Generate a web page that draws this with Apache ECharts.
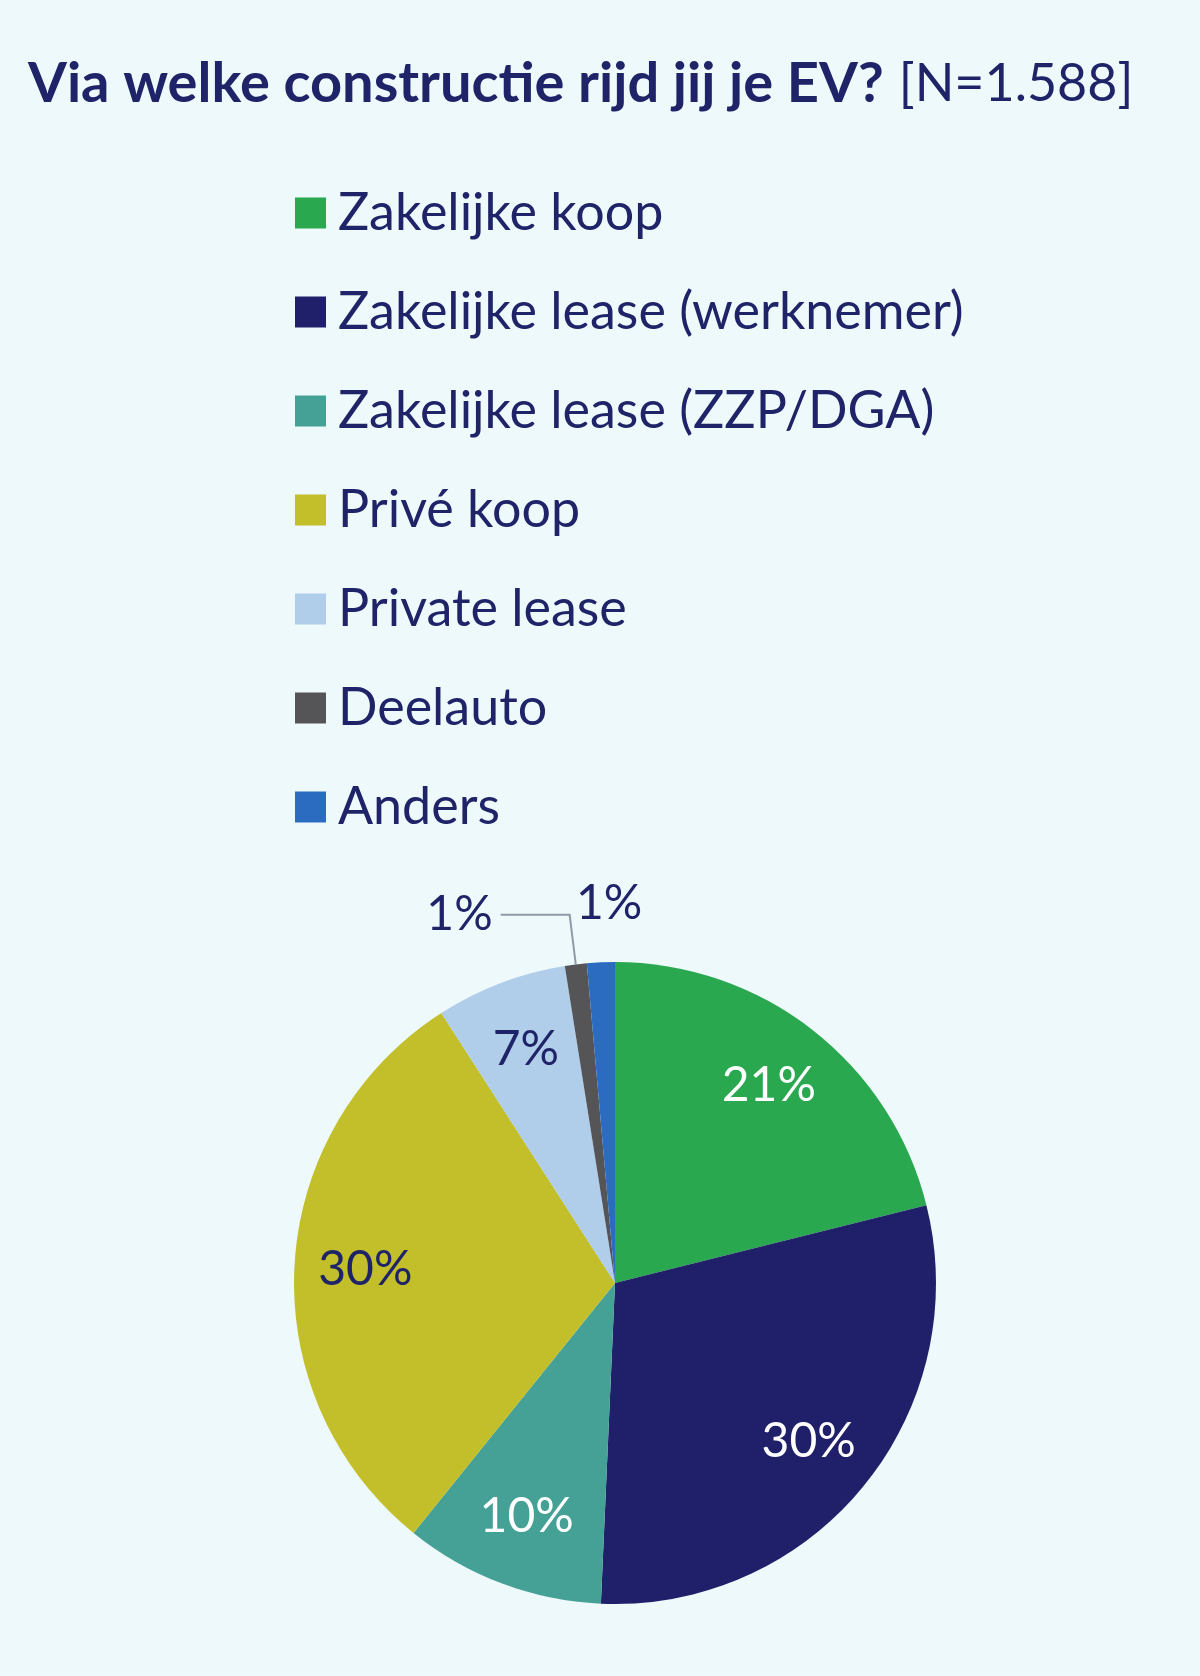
<!DOCTYPE html>
<html>
<head>
<meta charset="utf-8">
<script src="https://cdn.jsdelivr.net/npm/echarts@6/dist/echarts.min.js"></script>
<style>
html,body{margin:0;padding:0;background:#eef9fb;}
#chart{width:1200px;height:1676px;}
</style>
</head>
<body>
<div id="chart"></div>
<script>
// ---- data ----
const titleMain = 'Via welke constructie rijd jij je EV?';
const titleN = '[N=1.588]';
const categories = ['Zakelijke koop', 'Zakelijke lease (werknemer)', 'Zakelijke lease (ZZP/DGA)', 'Privé koop', 'Private lease', 'Deelauto', 'Anders'];
const shares = [21.1, 29.6, 10.1, 30.1, 6.6, 1.1, 1.4];

// ---- styles ----
const navy = '#1f2468';
const sliceColors = ['#2aa84f', '#20206a', '#45a095', '#c2bf2a', '#b0cde9', '#555558', '#2b6cc0'];
const labelColors = ['#ffffff', '#ffffff', '#ffffff', navy, navy, navy, navy];
const FONT = 'Lato, "Noto Sans", sans-serif';
const CX = 615, CY = 1283, R = 321;

const chart = echarts.init(document.getElementById('chart'), null, {renderer: 'canvas'});

const mainData = categories.map((c, i) => ({name: c, value: shares[i], itemStyle: {color: sliceColors[i]}}));

const labelData = categories.map((c, i) => {
  const item = {name: c, value: shares[i], itemStyle: {color: 'rgba(0,0,0,0)'},
    label: {color: labelColors[i]}};
  if (c === 'Deelauto') {
    item.label.position = 'outside';
    item.label.distanceToLabelLine = 8;
    item.labelLine = {show: true, length: 50, length2: 69, lineStyle: {color: '#8e9aa8', width: 2}};
  } else if (c === 'Anders') {
    item.label.position = 'outside';
    item.label.distanceToLabelLine = -44;
    item.labelLine = {show: false, length: 59, length2: 0};
  }
  return item;
});

chart.setOption({
  backgroundColor: '#eef9fb',
  animation: false,
  title: {
    left: 23, top: 46,
    text: '{b|' + titleMain + '}   {n|' + titleN + '}',
    textStyle: {
      rich: {
        b: {fontFamily: FONT, fontWeight: 'bold', fontSize: 56, color: navy, lineHeight: 66},
        n: {fontFamily: FONT, fontWeight: 'normal', fontSize: 52, color: navy, lineHeight: 66}
      }
    }
  },
  legend: {
    orient: 'vertical',
    left: 290, top: 182,
    itemWidth: 31, itemHeight: 31,
    itemGap: 47,
    icon: 'rect',
    selectedMode: false,
    data: categories.map((c, i) => ({name: c, itemStyle: {color: sliceColors[i]}})),
    textStyle: {fontFamily: FONT, fontSize: 52, color: navy, lineHeight: 52, padding: [0, 0, 0, 7]}
  },
  series: [
    {
      type: 'pie',
      center: [CX, CY],
      radius: [0, R],
      startAngle: 90,
      clockwise: true,
      silent: true,
      label: {show: false},
      labelLine: {show: false},
      data: mainData
    },
    {
      type: 'pie',
      center: [CX, CY],
      radius: [173, R],
      startAngle: 90,
      clockwise: true,
      silent: true,
      avoidLabelOverlap: false,
      label: {
        show: true, position: 'inside',
        fontFamily: FONT, fontSize: 48,
        formatter: p => Math.round(p.value) + '%'
      },
      labelLine: {show: false},
      data: labelData
    }
  ]
});
</script>
</body>
</html>
